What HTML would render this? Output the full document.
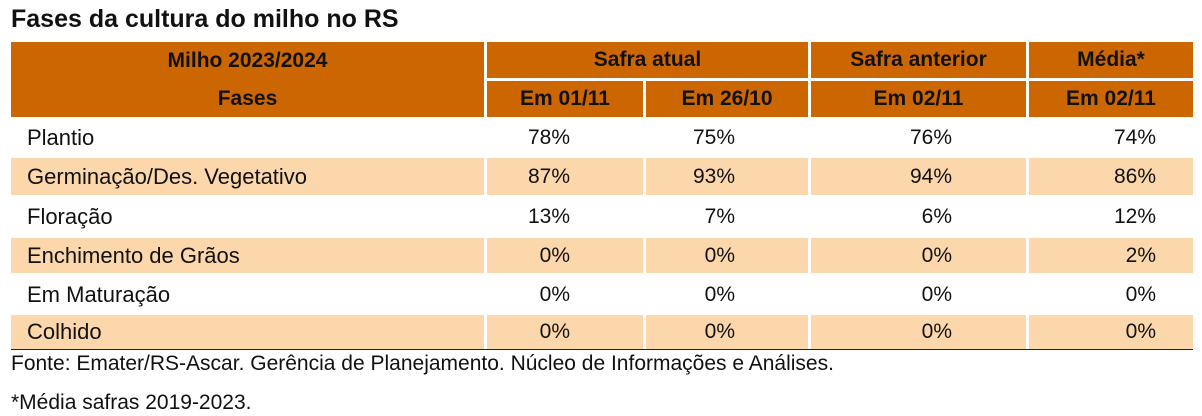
<!DOCTYPE html>
<html><head><meta charset="utf-8"><style>
body{margin:0;width:1202px;height:416px;background:#fff;position:relative;overflow:hidden;font-family:"Liberation Sans",sans-serif;color:#111}
.a{position:absolute;box-sizing:border-box}
.h{background:#CC6600;font-weight:bold;font-size:21px;display:flex;align-items:center;justify-content:center;color:#111}
.band{background:#FDD7AC}
.t{font-size:20px;line-height:22px}
</style></head><body>
<div class="a" style="left:11px;top:3px;font-size:25px;font-weight:bold;line-height:32px">Fases da cultura do milho no RS</div>
<div class="a h" style="left:11px;top:42px;width:473px;height:38px">Milho 2023/2024</div>
<div class="a h" style="left:11px;top:80px;width:473px;height:37px">Fases</div>
<div class="a h" style="left:487px;top:42px;width:321px;height:36px">Safra atual</div>
<div class="a h" style="left:811px;top:42px;width:215px;height:36px">Safra anterior</div>
<div class="a h" style="left:1029px;top:42px;width:164px;height:36px">Média*</div>
<div class="a h" style="left:487px;top:81px;width:156px;height:36px">Em 01/11</div>
<div class="a h" style="left:646px;top:81px;width:162px;height:36px">Em 26/10</div>
<div class="a h" style="left:811px;top:81px;width:215px;height:36px">Em 02/11</div>
<div class="a h" style="left:1029px;top:81px;width:164px;height:36px">Em 02/11</div>
<div id="rows"></div>
<div class="a" style="left:11px;top:349px;width:1182px;height:1px;background:#222"></div>
<div class="a t" style="left:11px;top:353px;font-size:21px">Fonte: Emater/RS-Ascar. Gerência de Planejamento. Núcleo de Informações e Análises.</div>
<div class="a t" style="left:11px;top:392px;font-size:21px">*Média safras 2019-2023.</div>
<script>
const phases=["Plantio","Germinação/Des. Vegetativo","Floração","Enchimento de Grãos","Em Maturação","Colhido"];
const atual0111=[78,87,13,0,0,0];
const atual2610=[75,93,7,0,0,0];
const anterior=[76,94,6,0,0,0];
const media=[74,86,12,2,0,0];
const rowTops=[118,157,197,237,275,314];
const rowH=[38,38,38,36,38,35];
const cols=[[11,473],[487,156],[646,162],[811,215],[1029,164]];
const pads=[0,73,73,74,37];
const root=document.getElementById('rows');
phases.forEach((p,i)=>{
  const vals=[p,atual0111[i]+'%',atual2610[i]+'%',anterior[i]+'%',media[i]+'%'];
  cols.forEach((c,j)=>{
    const d=document.createElement('div');
    
    
    d.className='a'+(i%2===1?' band':'');
    d.style.cssText=`left:${c[0]}px;top:${rowTops[i]+1}px;width:${c[1]}px;height:${rowH[i]-1}px;display:flex;align-items:center;`+
      (j===0?'padding-left:16px;font-size:22px;':`justify-content:flex-end;padding-right:${pads[j]}px;font-size:21px;`);
    d.textContent=vals[j];
    root.appendChild(d);
  });
});
</script>
</body></html>
